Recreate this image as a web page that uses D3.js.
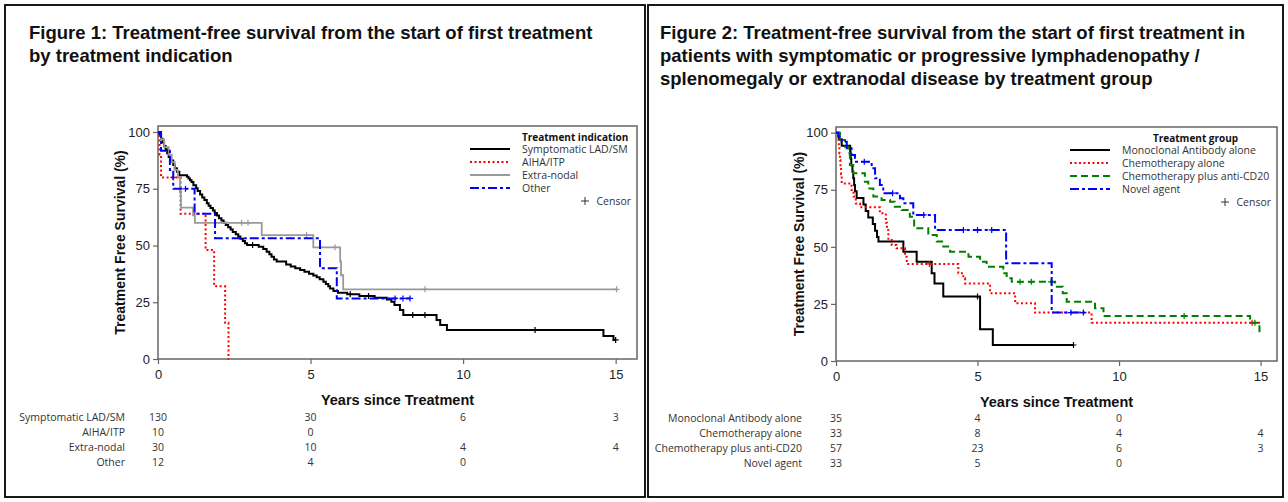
<!DOCTYPE html>
<html><head><meta charset="utf-8">
<script src="https://cdn.jsdelivr.net/npm/d3@7"></script>
<style>body{margin:0;background:#fff}</style></head>
<body><svg id="c" width="1288" height="502"></svg>
<script>
// ---------- DATA ----------
const xTicks = [0, 5, 10, 15];
const yTicks = [0, 25, 50, 75, 100];
const riskTimes = [0, 5, 10, 15];

const fig1TitleLines = ["Figure 1: Treatment-free survival from the start of first treatment", "by treatment indication"];
const fig1Groups = ["Symptomatic LAD/SM", "AIHA/ITP", "Extra-nodal", "Other"];
const fig1LegendTitle = "Treatment indication";

const fig1LAD = [[0,100],[0.05,98.5],[0.1,97],[0.15,95.4],[0.2,93.8],[0.25,92.3],[0.3,90.6],[0.35,89],[0.42,87.5],[0.5,85.5],[0.55,84],[0.62,82.5],[0.7,81],[0.95,80.3],[1.0,79.5],[1.05,78.7],[1.1,78],[1.16,76.5],[1.25,75.2],[1.3,74],[1.38,72.5],[1.45,71.2],[1.52,70],[1.6,68.6],[1.66,67.5],[1.72,66.5],[1.8,65.4],[1.86,64.3],[1.93,63.2],[2.0,62],[2.08,61],[2.15,60],[2.22,59],[2.3,58],[2.38,57],[2.45,56],[2.55,55],[2.63,54],[2.7,53],[2.78,52],[2.85,51],[2.92,50.2],[3.3,49.5],[3.45,48.5],[3.56,47.3],[3.65,46.2],[3.72,45],[3.8,43.8],[3.89,42.9],[4.2,41.6],[4.35,40.8],[4.5,40],[4.66,39.2],[4.8,38.4],[4.95,37.6],[5.09,36.8],[5.2,36],[5.3,35.1],[5.42,34],[5.5,33],[5.58,32],[5.64,31.1],[5.75,30],[5.9,29.2],[6.2,28.5],[6.6,27.8],[7.1,27],[7.5,26.2],[7.65,25.2],[7.75,23.8],[7.93,21.6],[8.04,19.4],[9.13,17.2],[9.25,15],[9.47,12.8],[14.6,10.1],[14.93,8.4],[15.0,8.4]];
const fig1AIHA = [[0,100],[0.05,90],[0.1,80],[0.74,64],[1.56,48],[1.84,32],[2.2,16],[2.31,0],[2.33,0]];
const fig1Extra = [[0,100],[0.1,96.7],[0.2,93.3],[0.35,90],[0.45,86.7],[0.55,83.3],[0.65,80],[0.72,73.3],[0.75,66.7],[1.15,63.3],[1.21,60],[3.4,54.6],[5.09,49.2],[5.97,43],[6.0,36.9],[6.07,30.7],[15.03,30.7]];
const fig1Other = [[0,100],[0.1,91.7],[0.39,83.3],[0.5,75],[1.2,64],[1.87,53.2],[5.31,40],[5.86,26.7],[8.26,26.7]];

const fig1LADCensor = [3.1, 6.3, 6.9, 8.35, 8.75, 12.36, 15.0];
const fig1AIHACensor = [0.5];
const fig1ExtraCensor = [2.74, 2.95, 4.87, 5.8, 8.75, 15.03];
const fig1OtherCensor = [0.9, 7.77, 8.03, 8.26];

const fig1Risk = [[130,30,6,3],[10,0,null,null],[30,10,4,4],[12,4,0,null]];

const fig2TitleLines = ["Figure 2: Treatment-free survival from the start of first treatment in", "patients with symptomatic or progressive lymphadenopathy /", "splenomegaly or extranodal disease by treatment group"];
const fig2Groups = ["Monoclonal Antibody alone", "Chemotherapy alone", "Chemotherapy plus anti-CD20", "Novel agent"];
const fig2LegendTitle = "Treatment group";

const fig2Mono = [[0,100],[0.1,97.1],[0.2,94.3],[0.5,91.4],[0.52,88.6],[0.54,85.7],[0.58,82.9],[0.61,80],[0.64,77.1],[0.67,74.3],[0.73,71.4],[0.97,68.6],[1.05,65.7],[1.14,62.9],[1.3,60],[1.38,57.1],[1.45,54.3],[1.5,52.3],[2.38,47.9],[2.85,43.5],[3.38,38.4],[3.48,34],[3.79,28.2],[5.09,13.9],[5.54,7],[8.39,7]];
const fig2Chemo = [[0,100],[0.08,97],[0.1,93.9],[0.12,90.9],[0.14,87.9],[0.16,84.8],[0.18,81.8],[0.2,77.8],[0.55,74.9],[0.62,72],[0.7,69],[0.85,67.3],[1.55,64.7],[1.76,60.6],[1.8,57.4],[1.85,53],[1.97,50.8],[2.14,49.4],[2.44,45.7],[2.5,42.5],[4.32,38.4],[4.5,36.2],[4.56,34],[5.44,29.7],[6.33,25.3],[7.03,21.2],[9.03,16.8],[15.04,16.8]];
const fig2ChemoCD20 = [[0,100],[0.14,96.8],[0.32,93.9],[0.43,91],[0.49,85.9],[0.61,82.2],[1.02,78.5],[1.14,75.6],[1.32,72],[1.61,70.5],[1.91,69.8],[2.08,67.6],[2.32,66.1],[2.61,63.2],[2.76,58.1],[3.26,55.2],[3.56,52.3],[3.79,50.1],[4.03,47.9],[4.68,45.7],[5.09,43.5],[5.32,41.3],[5.91,38.4],[6.03,36.2],[6.21,34.7],[7.74,32.5],[8.01,29.7],[8.15,26],[9.15,23.1],[9.45,19.7],[14.63,16.8],[14.96,12.1],[15.0,12.1]];
const fig2Novel = [[0,100],[0.08,98.2],[0.2,96],[0.38,93.2],[0.55,90.2],[0.67,87.3],[1.26,84.4],[1.38,80],[1.55,77.1],[1.67,73.5],[2.26,71.3],[2.38,69.1],[2.73,64],[3.5,57.4],[6.01,42.8],[7.62,21.2],[8.74,21.2]];

const fig2MonoCensor = [5.0, 8.39];
const fig2ChemoCensor = [3.3, 14.7];
const fig2ChemoCD20Censor = [6.5, 6.9, 7.6, 12.3, 14.8];
const fig2NovelCensor = [1.0, 2.0, 3.1, 4.5, 5.0, 5.5, 8.3, 8.74];

const fig2Risk = [[35,4,0,null],[33,8,4,4],[57,23,6,3],[33,5,0,null]];

// ---------- STYLES ----------
const styles = {
  black: {stroke:"#000", width:2, dash:null},
  red:   {stroke:"#ff0000", width:2, dash:"2,2.5"},
  gray:  {stroke:"#999", width:1.8, dash:null},
  blue:  {stroke:"#0000ff", width:2, dash:"9,3,3,3"},
  green: {stroke:"#008000", width:2, dash:"7,4"}
};

const svg = d3.select("#c");
const TITLE_FONT = "'Liberation Sans', Arial, sans-serif";
const SMALL_FONT = "'Open Sans', 'DejaVu Sans', sans-serif";

function valueAt(curve, t) {
  let v = curve[0][1];
  for (const p of curve) { if (p[0] <= t) v = p[1]; }
  return v;
}

function drawPanel(p) {
  const g = svg.append("g");
  g.append("rect").attr("x", p.box[0]).attr("y", p.box[1]).attr("width", p.box[2]).attr("height", p.box[3])
    .attr("fill", "none").attr("stroke", "#000").attr("stroke-width", 1.8);
  p.title.forEach((line, i) => {
    g.append("text").attr("x", p.titleX).attr("y", 39 + i * 23).text(line)
      .attr("font-family", TITLE_FONT).attr("font-weight", "bold").attr("font-size", 18.5).attr("fill", "#111");
  });
  const x = d3.scaleLinear().domain([0, p.xMax]).range([p.left, p.right]);
  const y = d3.scaleLinear().domain([0, 100]).range([p.y0, p.y100]);

  g.append("rect").attr("x", p.left).attr("y", p.top).attr("width", p.right - p.left).attr("height", y(0) - p.top)
    .attr("fill", "none").attr("stroke", "#666").attr("stroke-width", 1.5);

  const ya = g.append("g").attr("transform", `translate(${p.left},0)`)
    .call(d3.axisLeft(y).tickValues(yTicks).tickSize(5).tickPadding(3));
  const xa = g.append("g").attr("transform", `translate(0,${y(0)})`)
    .call(d3.axisBottom(x).tickValues(xTicks).tickSize(5).tickPadding(6));
  [ya, xa].forEach(a => {
    a.select(".domain").remove();
    a.selectAll("line").attr("stroke", "#666").attr("stroke-width", 1.2);
    a.selectAll("text").attr("font-family", TITLE_FONT).attr("font-size", 13).attr("fill", "#222");
  });

  g.append("text").attr("transform", `translate(${p.yLabelX},${(p.top + y(0)) / 2}) rotate(-90)`)
    .attr("text-anchor", "middle").attr("dominant-baseline", "central").text("Treatment Free Survival (%)")
    .attr("font-family", TITLE_FONT).attr("font-weight", "bold").attr("font-size", 14).attr("fill", "#111");
  g.append("text").attr("x", (p.left + p.right) / 2).attr("y", p.xLabelY)
    .attr("text-anchor", "middle").attr("dominant-baseline", "central").text("Years since Treatment")
    .attr("font-family", TITLE_FONT).attr("font-weight", "bold").attr("font-size", 14.5).attr("fill", "#111");

  const line = d3.line().x(d => x(d[0])).y(d => y(d[1])).curve(d3.curveStepAfter);
  const plot = g.append("g");
  p.series.forEach(s => {
    const st = styles[s.style];
    plot.append("path").attr("d", line(s.curve)).attr("fill", "none")
      .attr("stroke", st.stroke).attr("stroke-width", st.width)
      .attr("stroke-dasharray", st.dash).attr("stroke-linejoin", "miter");
    s.censor.forEach(t => {
      const cx = x(t), cy = y(valueAt(s.curve, t));
      plot.append("path").attr("d", `M${cx - 3},${cy}H${cx + 3}M${cx},${cy - 3}V${cy + 3}`)
        .attr("stroke", st.stroke).attr("stroke-width", 1.2).attr("fill", "none");
    });
  });

  const lg = g.append("g");
  lg.append("text").attr("x", p.legTitleX).attr("y", p.legY0 - 12.5).text(p.legendTitle)
    .attr("dominant-baseline", "central").attr("font-family", SMALL_FONT).attr("font-weight", "bold")
    .attr("font-size", 10).attr("fill", "#111");
  p.series.forEach((s, i) => {
    const st = styles[s.style];
    const yy = p.legY0 + i * 13;
    lg.append("line").attr("x1", p.legLine[0]).attr("x2", p.legLine[1]).attr("y1", yy).attr("y2", yy)
      .attr("stroke", st.stroke).attr("stroke-width", st.width).attr("stroke-dasharray", st.dash);
    lg.append("text").attr("x", p.legText).attr("y", yy).text(s.name).attr("dominant-baseline", "central")
      .attr("font-family", SMALL_FONT).attr("font-size", 10.5).attr("fill", "#333");
  });
  const cy = p.legY0 + 4 * 13;
  lg.append("text").attr("x", p.legRight).attr("y", cy).attr("text-anchor", "end").text("Censor")
    .attr("dominant-baseline", "central").attr("font-family", SMALL_FONT).attr("font-size", 10.5).attr("fill", "#333");
  const px = p.legRight - 46;
  lg.append("path").attr("d", `M${px - 4},${cy}H${px + 4}M${px},${cy - 4}V${cy + 4}`).attr("stroke", "#333").attr("stroke-width", 1);

  const rt = g.append("g");
  p.series.forEach((s, i) => {
    const yy = p.riskY[i];
    rt.append("text").attr("x", p.riskLabelX).attr("y", yy).attr("text-anchor", "end").text(s.name)
      .attr("dominant-baseline", "central").attr("font-family", SMALL_FONT).attr("font-size", 10.5).attr("fill", "#333");
    p.risk[i].forEach((n, j) => {
      if (n === null) return;
      rt.append("text").attr("x", x(riskTimes[j])).attr("y", yy).attr("text-anchor", "middle").text(n)
        .attr("dominant-baseline", "central").attr("font-family", SMALL_FONT).attr("font-size", 10.5).attr("fill", "#333");
    });
  });
}

drawPanel({
  box: [5, 5, 640, 492], titleX: 29, title: fig1TitleLines,
  left: 158, right: 637, xMax: 15.7, y0: 359, y100: 132, top: 126,
  yLabelX: 120, xLabelY: 400,
  series: [
    {name: fig1Groups[0], curve: fig1LAD, censor: fig1LADCensor, style: "black"},
    {name: fig1Groups[1], curve: fig1AIHA, censor: fig1AIHACensor, style: "red"},
    {name: fig1Groups[2], curve: fig1Extra, censor: fig1ExtraCensor, style: "gray"},
    {name: fig1Groups[3], curve: fig1Other, censor: fig1OtherCensor, style: "blue"}
  ],
  legendTitle: fig1LegendTitle, legTitleX: 522, legY0: 149, legLine: [470, 510], legText: 522, legRight: 631,
  risk: fig1Risk, riskLabelX: 125, riskY: [417, 432, 447, 462]
});
drawPanel({
  box: [648, 5, 635, 492], titleX: 660, title: fig2TitleLines,
  left: 836, right: 1277, xMax: 15.58, y0: 361, y100: 132.7, top: 127,
  yLabelX: 799, xLabelY: 402,
  series: [
    {name: fig2Groups[0], curve: fig2Mono, censor: fig2MonoCensor, style: "black"},
    {name: fig2Groups[1], curve: fig2Chemo, censor: fig2ChemoCensor, style: "red"},
    {name: fig2Groups[2], curve: fig2ChemoCD20, censor: fig2ChemoCD20Censor, style: "green"},
    {name: fig2Groups[3], curve: fig2Novel, censor: fig2NovelCensor, style: "blue"}
  ],
  legendTitle: fig2LegendTitle, legTitleX: 1153, legY0: 150, legLine: [1070, 1110], legText: 1122, legRight: 1271,
  risk: fig2Risk, riskLabelX: 802, riskY: [418, 433, 448, 463]
});
</script>
</body></html>
